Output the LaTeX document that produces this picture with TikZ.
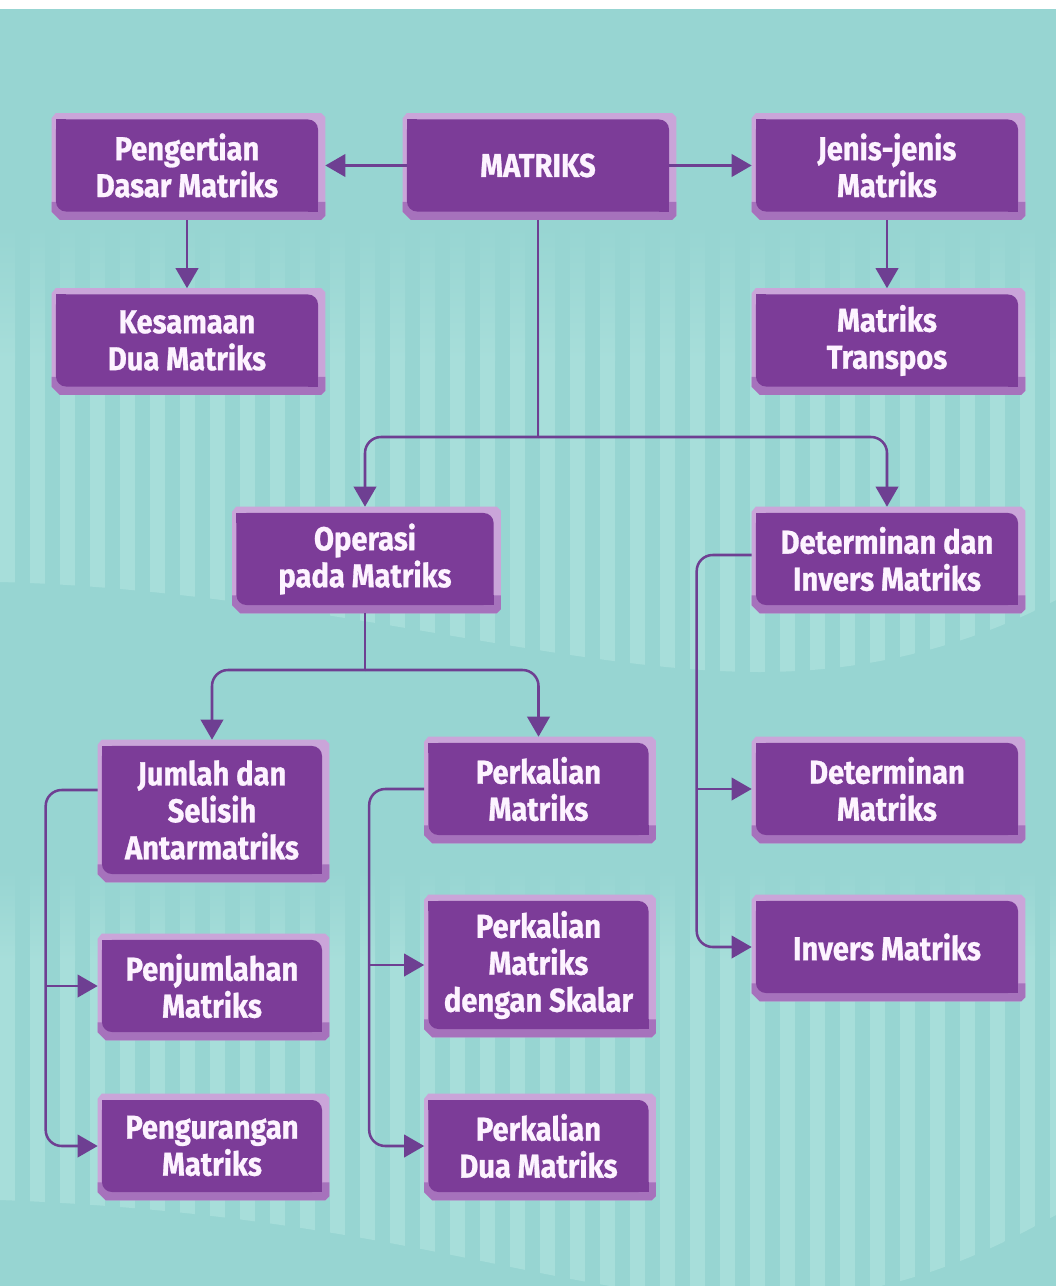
\documentclass[tikz,border=0pt]{standalone}
\usepackage{fontspec}
\newfontfamily\mfont{Fira Sans}[FakeStretch=0.88, FakeBold=0.8]
\usetikzlibrary{
    arrows.meta,
    calc,
    backgrounds
}
\definecolor{bgteal}{HTML}{97D5D2}
\definecolor{bgstripe}{HTML}{A7DEDA}
\definecolor{boxdark}{HTML}{7C3C98}
\definecolor{lavlt}{HTML}{CAA5D9}
\definecolor{lavmd}{HTML}{A672BC}
\definecolor{linkcol}{HTML}{6E3F92}
\definecolor{boxtext}{HTML}{FDF3FF}
\tikzset{mbox/.style={fill=boxdark, text=boxtext, rounded corners=0.25cm, inner sep=0pt, align=center,
    minimum width=6.55cm, minimum height=2.3cm, font=\mfont\bfseries\fontsize{23.5}{26.3}\selectfont}}
\tikzset{narrow/.style={minimum width=5.5cm}}
\tikzset{tall/.style={minimum height=3.2cm}}
\tikzset{mlink/.style={draw=linkcol, line width=1.8pt}}
\tikzset{marrow/.style={mlink, -{Triangle[length=0.5cm, width=0.56cm]}}}

\begin{document}
\begin{tikzpicture}[x=0.025cm, y=-0.025cm]
                        \useasboundingbox (0,0) rectangle (1056,1286);

                        % teal page with the two striped bands
                        \begin{scope}[on background layer]
                        \fill[bgteal] (0,9) rectangle (1056,1286);
                        \begin{scope}
                        \clip (0,225) -- (1056,225) -- (1056,600) .. controls (980,640) and (880,672) .. (760,672)
                            .. controls (560,672) and (300,590) .. (0,582) -- cycle;
                        \foreach \x in {0,30,...,1050} {
                            \shade[top color=bgteal, bottom color=bgstripe] (\x,225) rectangle (\x+15,360);
                            \fill[bgstripe] (\x,360) rectangle (\x+15,700);
                        }
                        \end{scope}
                        \begin{scope}
                        \clip (0,870) -- (1056,870) -- (1056,1215) .. controls (1000,1245) and (900,1300) .. (760,1300)
                            .. controls (560,1300) and (400,1215) .. (0,1200) -- cycle;
                        \foreach \x in {0,30,...,1050} {
                            \shade[top color=bgteal, bottom color=bgstripe] (\x,870) rectangle (\x+15,960);
                            \fill[bgstripe] (\x,960) rectangle (\x+15,1290);
                        }
                        \end{scope}
                        \end{scope}

                        \node[mbox] (pen) at (187,165.5) {Pengertian\\Dasar Matriks};
                        \node[mbox] (mat) at (538,165.5) {MATRIKS};
                        \node[mbox] (jen) at (887,165.5) {Jenis-jenis\\Matriks};
                        \node[mbox] (kes) at (187,340.5) {Kesamaan\\Dua Matriks};
                        \node[mbox] (tra) at (887,340.5) {Matriks\\Transpos};
                        \node[mbox, minimum width=6.43cm] (ope) at (365,559) {Operasi\\pada Matriks};
                        \node[mbox] (det) at (887,559) {Determinan dan\\Invers Matriks};
                        \node[mbox, narrow, tall] (jum) at (212,810) {Jumlah dan\\Selisih\\Antarmatriks};
                        \node[mbox, narrow] (perk) at (538.5,789) {Perkalian\\Matriks};
                        \node[mbox] (detm) at (887,789) {Determinan\\Matriks};
                        \node[mbox, narrow] (penj) at (212,986) {Penjumlahan\\Matriks};
                        \node[mbox, narrow, tall] (skal) at (538.5,965) {Perkalian\\Matriks\\dengan Skalar};
                        \node[mbox] (inv) at (887,947) {Invers Matriks};
                        \node[mbox, narrow] (peng) at (212,1146) {Pengurangan\\Matriks};
                        \node[mbox, narrow] (dua) at (538.5,1146) {Perkalian\\Dua Matriks};

                        % lavender bevel behind every box, sharp corners on top left and bottom right
                        \begin{scope}[on background layer]
                        \foreach \n in {pen,mat,jen,kes,tra,ope,det,jum,perk,detm,penj,skal,inv,peng,dua} {
                            \fill[lavlt] ([shift={(-4,-1)}]\n.north west) -- ([shift={(0,-6)}]\n.north west)
                                -- ([shift={(3,-6)}]\n.north east) -- ([shift={(7,-2)}]\n.north east)
                                -- ([shift={(7,4)}]\n.south east) -- ([shift={(3,8)}]\n.south east)
                                -- ([shift={(4,8)}]\n.south west) -- ([shift={(-4,0)}]\n.south west) -- cycle;
                            \fill[lavmd] ([shift={(-4,-10)}]\n.south west) -- ([shift={(7,-10)}]\n.south east)
                                -- ([shift={(7,4)}]\n.south east) -- ([shift={(3,8)}]\n.south east)
                                -- ([shift={(4,8)}]\n.south west) -- ([shift={(-4,0)}]\n.south west) -- cycle;
                        }
                        \end{scope}
                        \foreach \n in {pen,mat,jen,kes,tra,ope,det,jum,perk,detm,penj,skal,inv,peng,dua} {
                            \fill[boxdark] (\n.north west) rectangle +(10,10);
                            \fill[boxdark] (\n.south east) rectangle +(-10,-10);
                        }

                        \draw[marrow, shorten >=0.175cm] (mat.west) -- (pen.east);
                        \draw[marrow, shorten >=0.1cm] (mat.east) -- (jen.west);
                        \draw[marrow, shorten <=0.2cm, shorten >=0.15cm] (pen.south) -- (kes.north);
                        \draw[marrow, shorten <=0.2cm, shorten >=0.15cm] (jen.south) -- (tra.north);

                        \coordinate (mfork) at (mat.south |- 0,437);
                        \draw[mlink, shorten <=0.2cm] (mat.south) -- (mfork);
                        \draw[marrow, rounded corners=0.4cm, shorten >=0.15cm] (mfork) -| (ope.north);
                        \draw[marrow, rounded corners=0.4cm, shorten >=0.15cm] (mfork) -| (det.north);

                        \coordinate (ofork) at (ope.south |- 0,670);
                        \draw[mlink, shorten <=0.2cm] (ope.south) -- (ofork);
                        \draw[marrow, rounded corners=0.4cm, shorten >=0.15cm] (ofork) -| (jum.north);
                        \draw[marrow, rounded corners=0.4cm, shorten >=0.15cm] (ofork) -| (perk.north);

                        \coordinate (jbar) at ($([yshift=0.5cm]jum.west)+(-56,0)$);
                        \draw[marrow, rounded corners=0.4cm, shorten <=0.1cm, shorten >=0.1cm]
                            ([yshift=0.5cm]jum.west) -- (jbar) |- (peng.west);
                        \draw[marrow, shorten >=0.1cm] (jbar |- penj.west) -- (penj.west);

                        \coordinate (pbar) at ($(perk.west)+(-59,0)$);
                        \draw[marrow, rounded corners=0.4cm, shorten <=0.1cm, shorten >=0.1cm]
                            (perk.west) -- (pbar) |- (dua.west);
                        \draw[marrow, shorten >=0.1cm] (pbar |- skal.west) -- (skal.west);

                        \coordinate (dbar) at ($([yshift=0.1cm]det.west)+(-59,0)$);
                        \draw[marrow, rounded corners=0.4cm, shorten <=0.1cm, shorten >=0.1cm]
                            ([yshift=0.1cm]det.west) -- (dbar) |- (inv.west);
                        \draw[marrow, shorten >=0.1cm] (dbar |- detm.west) -- (detm.west);
                    \end{tikzpicture}
\end{document}
